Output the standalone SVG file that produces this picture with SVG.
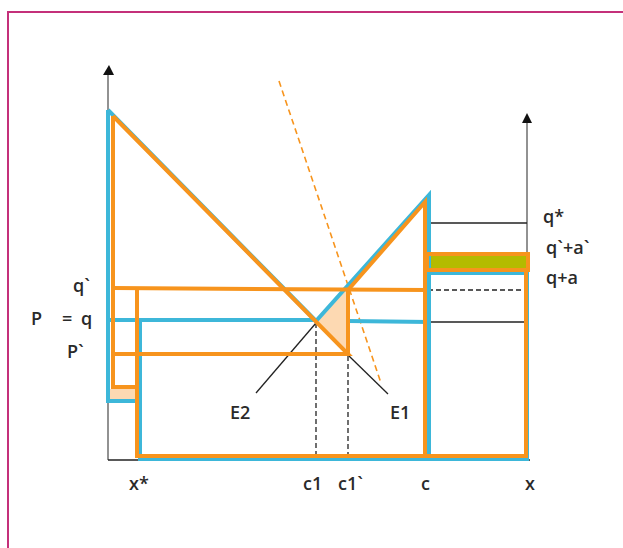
<svg xmlns="http://www.w3.org/2000/svg" width="623" height="548" viewBox="0 0 623 548">
<defs>
<style>
.o{fill:none;stroke:#f7941d;stroke-width:4}
.b{fill:none;stroke:#3db7d9;stroke-width:4}
.k{fill:none;stroke:#222;stroke-width:1.3}
.ax{fill:none;stroke:#777;stroke-width:1.6}
.d{fill:none;stroke:#222;stroke-width:1.3;stroke-dasharray:5 3}
.od{fill:none;stroke:#f7941d;stroke-width:1.6;stroke-dasharray:6 4}
text{font-family:"Open Sans","Liberation Sans",Arial,sans-serif;font-size:18px;font-weight:600;fill:#2a2a2a}
</style>
</defs>
<rect width="623" height="548" fill="#fff"/>
<g id="border">
<path d="M8,548 L8,12 L623,12" fill="none" stroke="#c4307a" stroke-width="2"/>
</g>
<g id="axes">
<path class="ax" d="M108,460 L108,75"/>
<path d="M103,75 L109,65 L114,75 Z" fill="#111"/>
<path class="ax" d="M527,460 L527,123" stroke="#444"/>
<path d="M522,123 L527,113 L532,123 Z" fill="#111"/>
<path class="k" d="M108,460 L530,460" stroke-width="1.6"/>
</g>
<g id="fills">
<polygon points="316,322 348,288 348,354" fill="#fdd9b2"/>
<rect x="110" y="389" width="27" height="11" fill="#fdd9b2"/>
<rect x="427" y="255" width="101" height="14" fill="#b4bb00"/>
</g>
<g id="connectors">
<path class="od" d="M279,81 L381,383"/>
<path class="k" d="M429,223 L527,223"/>
<path class="k" d="M429,322 L527,322"/>
<path class="d" d="M348,290 L527,290"/>
<path class="d" d="M430,271 L527,271"/>
<path class="d" d="M316,323 L316,460"/>
<path class="d" d="M348,356 L348,460"/>
<path class="k" d="M316,323 L256,393"/>
<path class="k" d="M349,356 L388,394"/>
</g>
<g id="blue">
<path class="b" d="M108,110 L108,401 L137,401"/>
<path class="b" d="M108,110 L316,321 L429,195 L429,459"/>
<path class="b" d="M110,320 L316,320"/>
<path class="b" d="M140,321 L140,459 L527,459 L527,273 L429,273"/>
<path class="b" d="M348,321 L429,322"/>
</g>
<g id="orange">
<path class="o" d="M113,116 L113,387 L137,387"/>
<path class="o" d="M113,116 L348,354 L113,354"/>
<path class="o" d="M113,288 L427,290"/>
<path class="o" d="M348,290 L348,354"/>
<path class="o" d="M348,290 L425,202 L425,456"/>
<path class="o" d="M137,288 L137,456 L526,456 L526,270"/>
<rect class="o" x="427" y="254" width="101" height="16"/>
</g>
<g id="labels">
<text x="73" y="292">q`</text>
<text y="325"><tspan x="31">P</tspan><tspan x="62">=</tspan><tspan x="81">q</tspan></text>
<text x="67" y="358">P`</text>
<text x="543" y="223">q*</text>
<text x="546" y="254">q`+a`</text>
<text x="546" y="284">q+a</text>
<text x="230" y="419">E2</text>
<text x="390" y="419">E1</text>
<text x="129" y="490">x*</text>
<text x="303" y="490">c1</text>
<text x="338" y="490">c1`</text>
<text x="421" y="490">c</text>
<text x="525" y="490">x</text>
</g>
</svg>
